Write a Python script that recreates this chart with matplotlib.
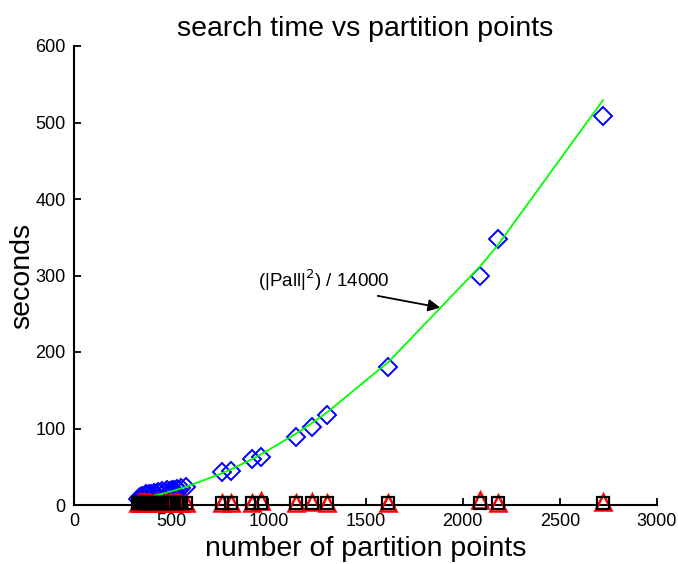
import matplotlib
matplotlib.use('Agg')
import matplotlib.pyplot as plt
import numpy as np

plt.rcParams['font.family'] = ['Liberation Sans', 'DejaVu Sans']

# partition points and search times
pts = [330, 338, 345, 352, 360, 368, 378, 388, 398, 410, 420, 432, 445, 455,
       468, 480, 492, 505, 515, 528, 540, 552, 575,
       764, 806, 918, 964, 1140, 1226, 1303, 1618, 2090, 2183, 2722]
t_search = [8, 10, 9, 12, 11, 14, 13, 15, 14, 16, 15, 17, 16, 18,
            17, 19, 18, 20, 19, 21, 20, 22, 24,
            43, 44, 60, 63, 89, 102, 117, 180, 299, 348, 509]
# model curve |Pall|^2 / 14000 evaluated at the same points
t_model = [7.8, 8.2, 8.5, 8.9, 9.3, 9.7, 10.2, 10.8, 11.3, 12.0, 12.6, 13.3, 14.1, 14.8,
           15.6, 16.5, 17.3, 18.2, 18.9, 19.9, 20.8, 21.8, 23.6,
           41.7, 46.4, 60.2, 66.4, 92.8, 107.4, 121.3, 187.0, 312.0, 340.4, 529.2]
t_red = [3, 4, 3, 2, 4, 3, 3, 4, 2, 3, 4, 3, 3, 4,
         2, 3, 4, 3, 3, 4, 3, 2, 3,
         3, 2, 3, 5, 3, 4, 3, 3, 6, 2, 4]
t_black = [3] * len(pts)

fig = plt.figure(figsize=(6.78, 5.64), dpi=100)
ax = fig.add_axes([74/678, 1-505/564, (657-74)/678, (505-46)/564])

ax.plot(pts, t_search, 'D', mfc='none', mec='#0000ff', ms=9.5, mew=1.4, zorder=3, clip_on=False)
ax.plot(pts, t_model, '-', color='#00ff00', lw=1.3, zorder=4)
ax.plot(pts, t_red, '^', mfc='none', mec='#ff0000', ms=11, mew=1.8, zorder=3, clip_on=False)
ax.plot(pts, t_black, 's', mfc='none', mec='black', ms=8, mew=1.6, zorder=5, clip_on=False)

ax.set_xlim(0, 3000)
ax.set_ylim(0, 600)
ax.set_xticks(np.arange(0, 3001, 500))
ax.set_yticks(np.arange(0, 601, 100))
ax.spines['top'].set_visible(False)
ax.spines['right'].set_visible(False)
ax.spines['left'].set_linewidth(1.5)
ax.spines['bottom'].set_linewidth(1.5)
ax.tick_params(direction='in', length=5, width=1.3, labelsize=13, pad=6)

ax.set_title('search time vs partition points', fontsize=20.5, pad=7)
ax.set_xlabel('number of partition points', fontsize=20.5, labelpad=4)
ax.set_ylabel('seconds', fontsize=20.5, labelpad=0)

ax.annotate(r'(|Pall|$^2$) / 14000', xy=(1885, 258), xytext=(945, 277),
            fontsize=13.5, va='bottom', ha='left',
            arrowprops=dict(arrowstyle='-|>', color='black', lw=1.3,
                            mutation_scale=18, shrinkA=0, shrinkB=0,
                            relpos=(0.8, 0.0)))

fig.savefig('out.png', dpi=100)
